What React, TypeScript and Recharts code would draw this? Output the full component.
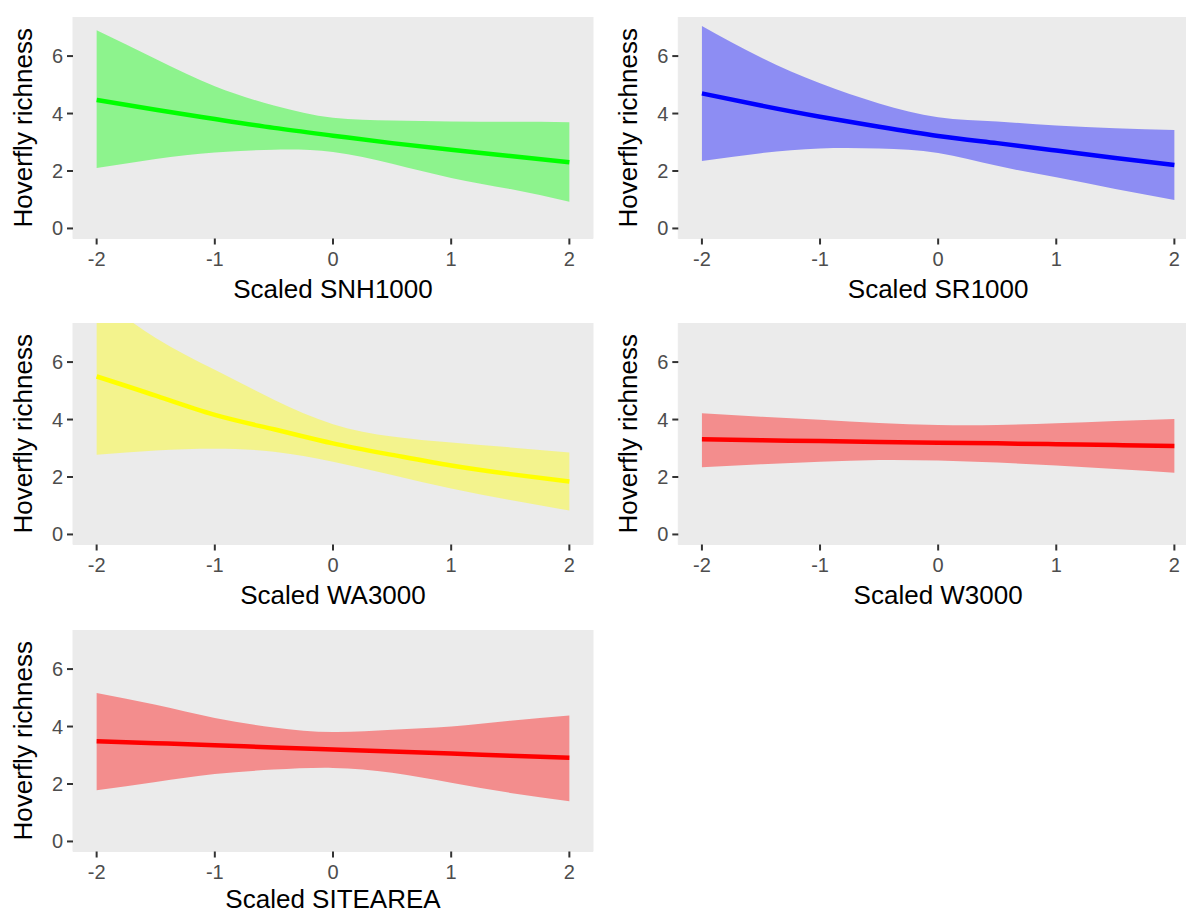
import React from 'react';
import { ComposedChart, Area, Line, XAxis, YAxis, CartesianGrid } from 'recharts';

// predictor values (scaled), shared by every panel
const xValues = [-2, -1.5, -1, -0.5, 0, 0.5, 1, 1.5, 2];
const xTicks = [-2, -1, 0, 1, 2];
const yTicks = [0, 2, 4, 6];

// Scaled SNH1000
const snhMean = [4.47, 4.13, 3.81, 3.5, 3.23, 2.97, 2.74, 2.52, 2.3];
const snhLow = [2.1, 2.42, 2.64, 2.74, 2.66, 2.25, 1.76, 1.37, 0.93];
const snhHigh = [6.9, 5.9, 4.95, 4.28, 3.85, 3.76, 3.72, 3.71, 3.7];

// Scaled SR1000
const srMean = [4.7, 4.28, 3.89, 3.54, 3.22, 2.97, 2.71, 2.45, 2.21];
const srLow = [2.35, 2.62, 2.78, 2.78, 2.63, 2.18, 1.78, 1.37, 0.99];
const srHigh = [7.05, 5.95, 5.05, 4.35, 3.87, 3.72, 3.58, 3.49, 3.43];

// Scaled WA3000
const waMean = [5.5, 4.83, 4.16, 3.66, 3.17, 2.77, 2.4, 2.1, 1.84];
const waLow = [2.77, 2.92, 2.98, 2.88, 2.53, 2.07, 1.6, 1.2, 0.83];
const waHigh = [8.3, 6.84, 5.73, 4.69, 3.84, 3.41, 3.2, 3.03, 2.85];

// Scaled W3000
const wMean = [3.31, 3.28, 3.25, 3.22, 3.19, 3.17, 3.14, 3.11, 3.08];
const wLow = [2.34, 2.44, 2.53, 2.59, 2.57, 2.5, 2.4, 2.28, 2.15];
const wHigh = [4.22, 4.1, 3.99, 3.88, 3.81, 3.81, 3.87, 3.95, 4.02];

// Scaled SITEAREA
const siteMean = [3.49, 3.42, 3.35, 3.27, 3.2, 3.13, 3.06, 2.98, 2.91];
const siteLow = [1.78, 2.07, 2.35, 2.5, 2.56, 2.39, 2.04, 1.69, 1.4];
const siteHigh = [5.17, 4.76, 4.3, 3.97, 3.81, 3.89, 4.0, 4.2, 4.38];

const build = (mean: number[], low: number[], high: number[]) =>
    xValues.map((x, i) => ({ x, mean: mean[i], band: [low[i], high[i]] }));

const FONT = '"Liberation Sans", Arial, sans-serif';
const PANEL_H = 221.5;
const AXIS_H = 75;

const xTitle = (label: string, offset: number) => (props: any) => {
    const vb = props.viewBox;
    return (
        <text x={vb.x + vb.width / 2} y={vb.y + offset} textAnchor="middle" fontSize={26} fill="#000" fontFamily={FONT}>
            {label}
        </text>
    );
};

const yTitle = (props: any) => {
    const vb = props.viewBox;
    const cx = 32;
    const cy = vb.y + vb.height / 2;
    return (
        <text x={cx} y={cy} transform={`rotate(-90, ${cx}, ${cy})`} textAnchor="middle" fontSize={26} fill="#000" fontFamily={FONT}>
            Hoverfly richness
        </text>
    );
};

// tick labels drawn by hand so the size sticks
const XTick = (props: any) => {
    const { x, y, payload } = props;
    return (
        <text x={x} y={y + 16} textAnchor="middle" fontSize={20} fill="#4D4D4D" fontFamily={FONT}>
            {payload.value}
        </text>
    );
};

const YTick = (props: any) => {
    const { x, y, payload } = props;
    return (
        <text x={x} y={y + 7} textAnchor="end" fontSize={20} fill="#4D4D4D" fontFamily={FONT}>
            {payload.value}
        </text>
    );
};

interface PanelProps {
    data: { x: number; mean: number; band: number[] }[];
    color: string;
    title: string;
    left: number;
    top: number;
    axisWidth: number;
    titleOffset?: number;
}

const Panel: React.FC<PanelProps> = ({ data, color, title, left, top, axisWidth, titleOffset = 59 }) => (
    <div style={{ position: 'absolute', left, top }}>
        <ComposedChart
            width={600}
            height={PANEL_H + AXIS_H}
            data={data}
            margin={{ top: 0, right: 7, bottom: 0, left: 0 }}
            style={{ fontFamily: FONT }}
        >
            <CartesianGrid fill="#EBEBEB" stroke="#EBEBEB" />
            <XAxis
                dataKey="x"
                type="number"
                domain={[-2.2, 2.2]}
                ticks={xTicks}
                allowDataOverflow
                height={AXIS_H}
                axisLine={false}
                tickSize={6}
                tickMargin={5}
                tickLine={{ stroke: '#333333', strokeWidth: 2 }}
                tick={<XTick />}
                label={{ value: title, content: xTitle(title, titleOffset) }}
            />
            <YAxis
                type="number"
                domain={[-0.35, 7.36]}
                ticks={yTicks}
                allowDataOverflow
                width={axisWidth}
                axisLine={false}
                tickSize={6}
                tickMargin={4}
                tickLine={{ stroke: '#333333', strokeWidth: 2 }}
                tick={<YTick />}
                label={{ value: 'Hoverfly richness', content: yTitle }}
            />
            <Area
                type="natural"
                dataKey="band"
                stroke="none"
                fill={color}
                fillOpacity={0.4}
                isAnimationActive={false}
                activeDot={false}
            />
            <Line
                type="natural"
                dataKey="mean"
                stroke={color}
                strokeWidth={4.5}
                dot={false}
                activeDot={false}
                isAnimationActive={false}
            />
        </ComposedChart>
    </div>
);

export default function App() {
    return (
        <div style={{ position: 'absolute', left: 0, top: 0, width: 1186, height: 913, overflow: 'hidden', background: '#fff' }}>
            <Panel data={build(snhMean, snhLow, snhHigh)} color="#00FF00" title="Scaled SNH1000" left={0} top={17.3} axisWidth={73} />
            <Panel data={build(srMean, srLow, srHigh)} color="#0000FF" title="Scaled SR1000" left={605} top={17.3} axisWidth={73.3} />
            <Panel data={build(waMean, waLow, waHigh)} color="#FFFF00" title="Scaled WA3000" left={0} top={323.3} axisWidth={73} />
            <Panel data={build(wMean, wLow, wHigh)} color="#FF0000" title="Scaled W3000" left={605} top={323.3} axisWidth={73.3} />
            <Panel data={build(siteMean, siteLow, siteHigh)} color="#FF0000" title="Scaled SITEAREA" left={0} top={629.5} axisWidth={73} titleOffset={56} />
        </div>
    );
}
